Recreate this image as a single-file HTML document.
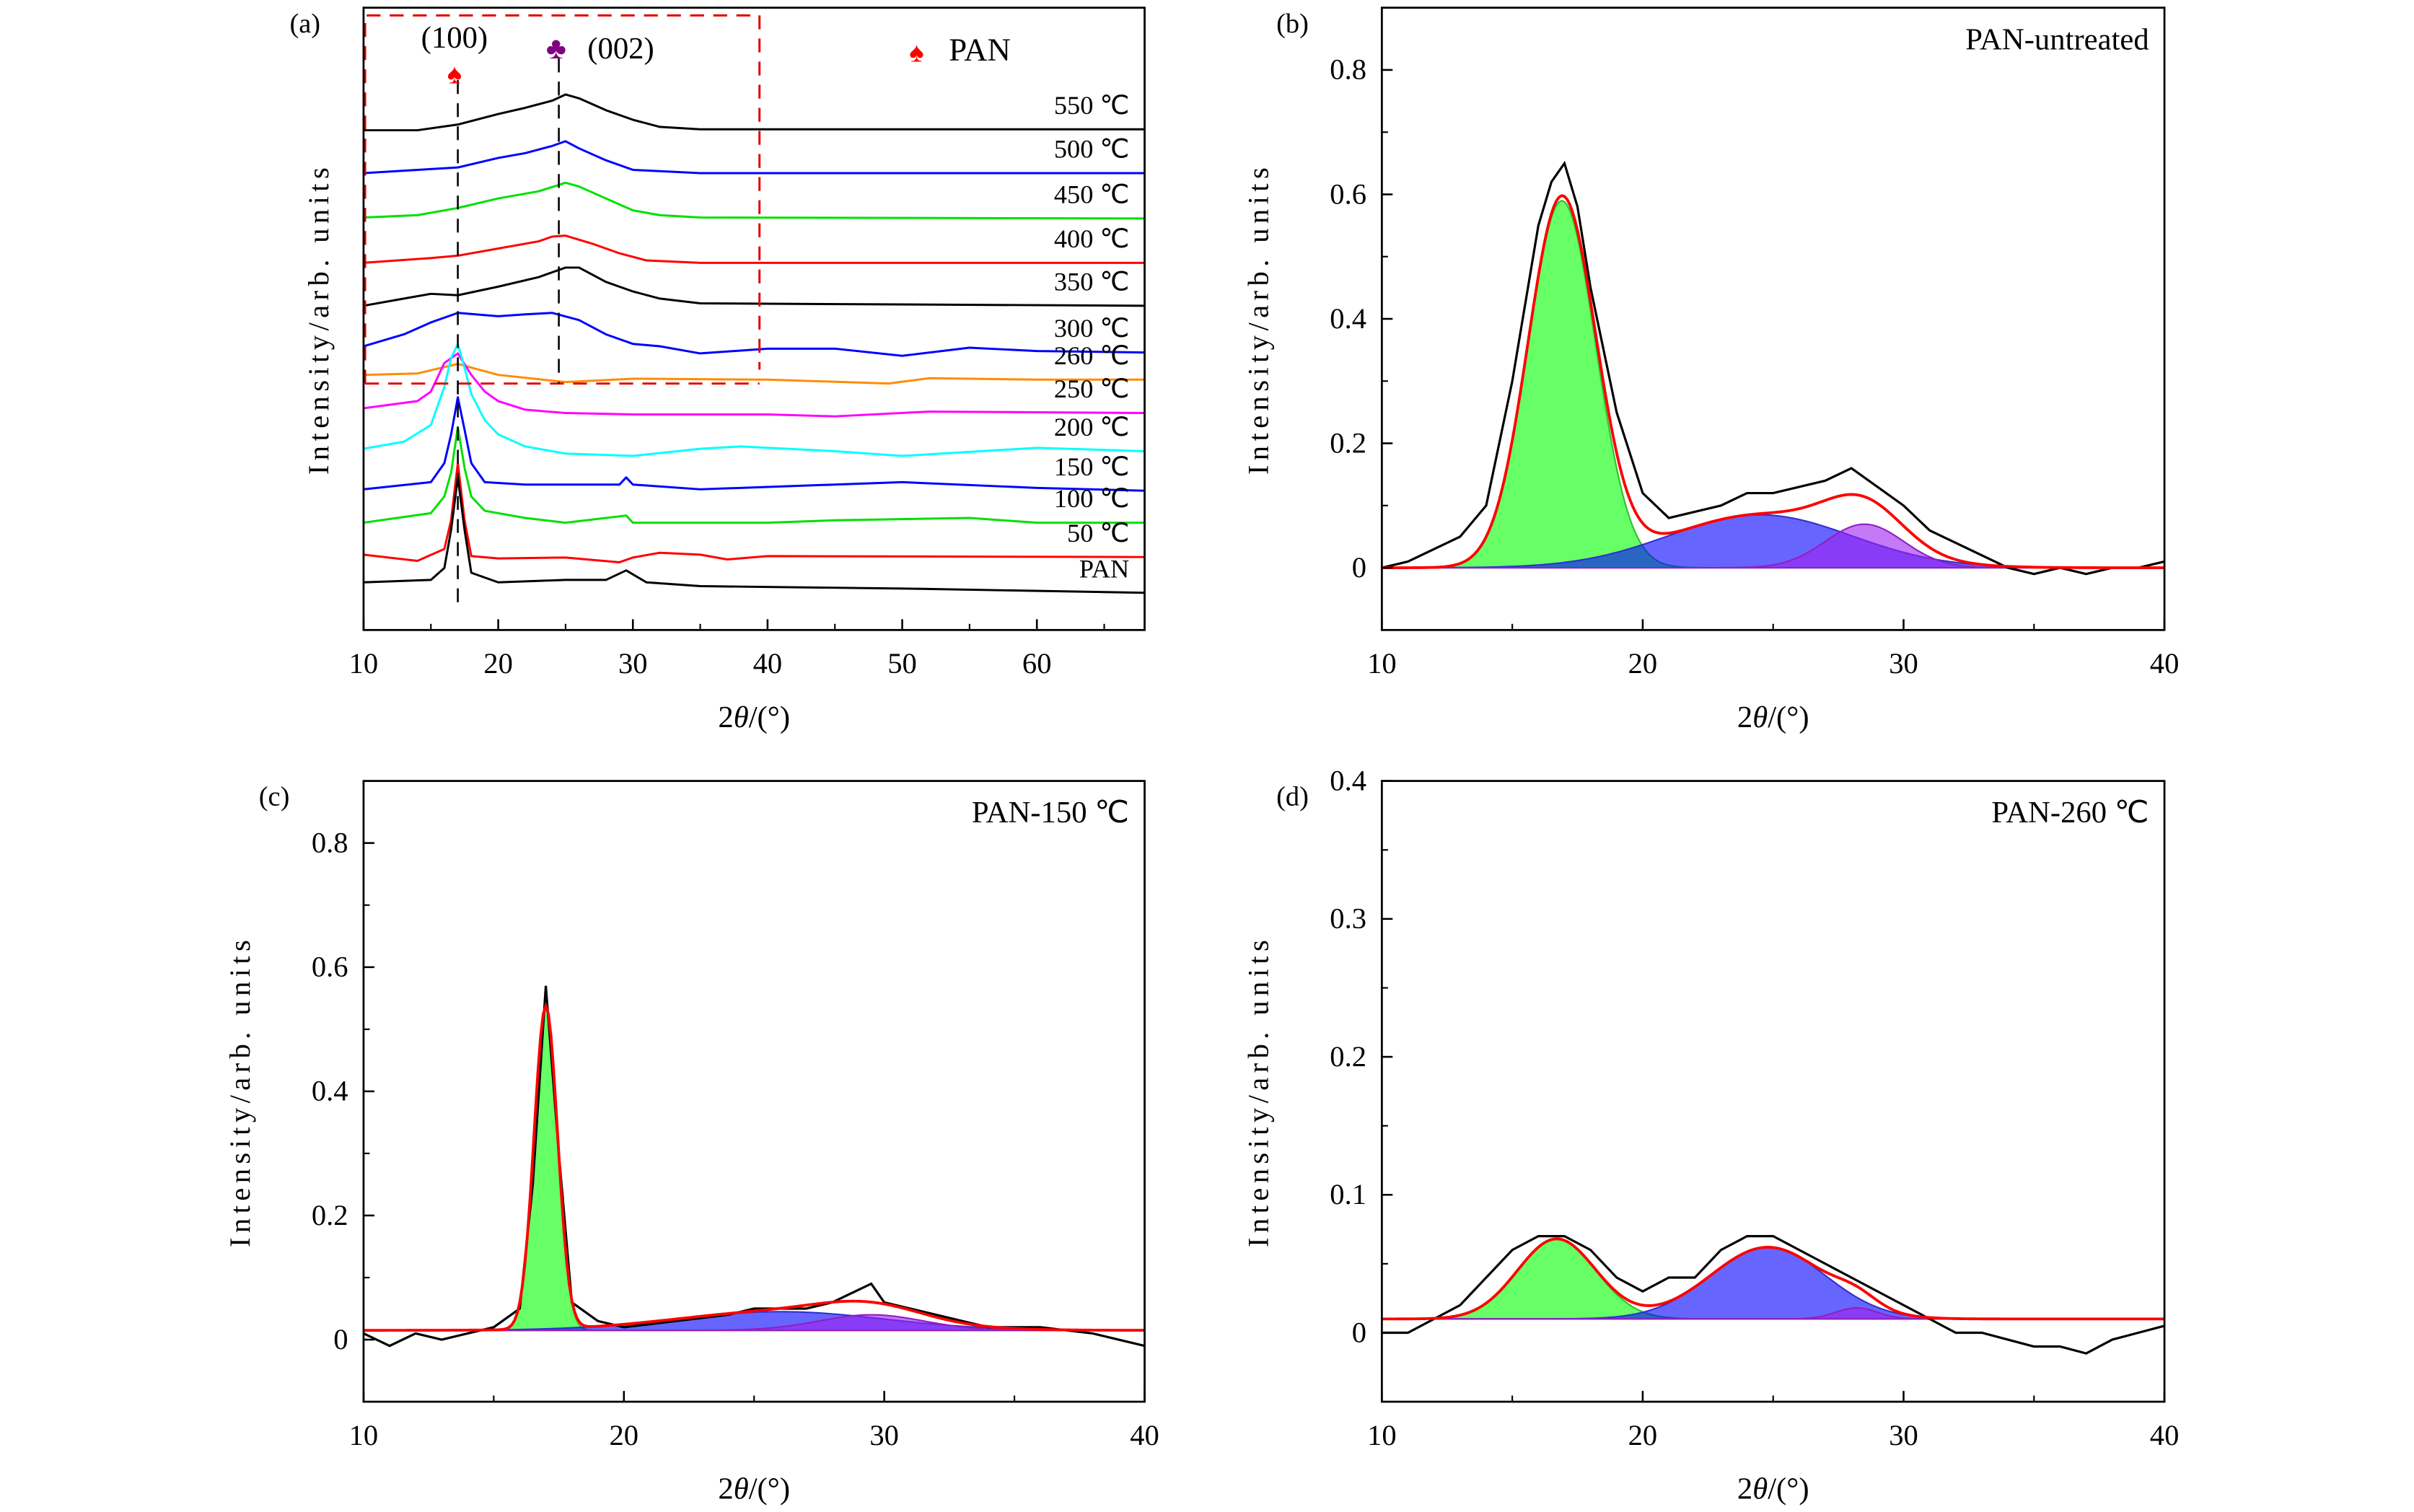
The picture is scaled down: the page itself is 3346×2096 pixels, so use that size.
<!DOCTYPE html>
<html><head><meta charset="utf-8">
<style>
html,body{margin:0;padding:0;background:#fff;}
svg{display:block;}
text{font-family:"Liberation Serif",serif;fill:#000;}
</style></head>
<body>
<svg id="fig" xmlns="http://www.w3.org/2000/svg" width="3346" height="2096" viewBox="0 0 1567 981.6" preserveAspectRatio="none"></svg>
<script>
// ---------- Panel (a) data: stacked XRD patterns (arb. intensity units) ----------
const aLabels = ["550 ℃","500 ℃","450 ℃","400 ℃","350 ℃","300 ℃","260 ℃","250 ℃","200 ℃","150 ℃","100 ℃","50 ℃","PAN"];
const aColors = ["#000","#0000ff","#00e000","#ff0000","#000","#0000ff","#ff8c00","#ff00ff","#00ffff","#0000ff","#00e000","#ff0000","#000"];
const x550=[10,14,17,20,22,24,25,26,28,30,32,35,68];
const y550=[1048,1048,1060,1082,1095,1110,1123,1115,1090,1070,1055,1050,1050];
const x500=[10,17,20,22,24,25,26,28,30,35,68];
const y500=[958,970,990,1000,1015,1025,1010,985,965,958,958];
const x450=[10,14,17,20,23,25,26,28,30,32,35,68];
const y450=[865,870,885,905,920,938,930,905,880,870,865,863];
const x400=[10,15,17,20,23,24,25,27,29,31,35,68];
const y400=[770,780,785,800,815,825,827,810,790,775,770,770];
const x350=[10,13,15,17,20,23,25,26,28,30,32,35,68];
const y350=[680,695,705,702,720,740,760,760,730,710,695,685,680];
const x300=[10,13,15,17,20,22,24,26,28,30,32,35,40,45,50,55,60,68];
const y300=[595,620,645,665,658,662,665,650,620,600,595,580,590,590,575,592,585,582];
const x260=[10,14,17,20,25,30,40,49,52,60,68];
const y260=[535,538,558,535,520,527,525,517,528,525,525];
const x250=[10,14,15,16,17,18,19,20,22,25,30,40,45,52,68];
const y250=[465,480,500,560,580,535,500,480,462,455,452,452,448,458,455];
const x200=[10,13,15,16,16.5,17,17.5,18,19,20,22,25,30,35,38,45,50,60,68];
const y200=[380,395,430,510,570,600,550,495,440,410,385,370,365,380,385,375,365,382,375];
const x150=[10,15,16,16.5,17,17.5,18,19,22,25,29,29.5,30,35,50,60,68];
const y150=[295,310,350,410,488,420,350,310,305,305,305,320,305,295,310,298,292];
const x100=[10,15,16,16.5,17,17.5,18,19,22,25,29.5,30,40,45,55,60,68];
const y100=[225,245,280,330,425,340,280,250,235,225,240,225,225,230,235,225,225];
const x50=[10,14,16,16.5,17,17.5,18,20,25,29,30,32,35,37,40,68];
const y50=[158,145,170,230,350,230,155,150,152,142,152,162,158,148,155,153];
const xPAN=[10,15,16,16.5,17,17.5,18,20,25,28,29.5,31,35,50,68];
const yPAN=[100,105,130,210,320,210,120,100,105,105,125,100,92,87,78];
const aXs=[x550,x500,x450,x400,x350,x300,x260,x250,x200,x150,x100,x50,xPAN];
const aYs=[y550,y500,y450,y400,y350,y300,y260,y250,y200,y150,y100,y50,yPAN];
const aXTicks=[10,20,30,40,50,60];

// ---------- Panel (b) PAN-untreated ----------
const bX=[10,11,12,13,14,15,16,16.5,17,17.5,18,19,20,21,22,23,24,25,26,27,28,29,30,31,32,33,34,35,36,37,38,39,40];
const bY=[0,0.01,0.03,0.05,0.1,0.3,0.55,0.62,0.65,0.58,0.45,0.25,0.12,0.08,0.09,0.1,0.12,0.12,0.13,0.14,0.16,0.13,0.1,0.06,0.04,0.02,0,-0.01,0,-0.01,0,0,0.01];
const bCenters=[16.9,24.5,28.5];
const bAmps=[0.59,0.085,0.07];
const bSigmas=[1.3,3.5,1.5];
const bBase=0;
// ---------- Panel (c) PAN-150 ----------
const cX=[10,11,12,13,14,15,16,16.5,17,17.5,18,19,20,22,24,25,26,27,28,29,29.5,30,31,32,33,34,35,36,38,40];
const cY=[0.01,-0.01,0.01,0,0.01,0.02,0.05,0.25,0.57,0.3,0.06,0.03,0.02,0.03,0.04,0.05,0.05,0.05,0.06,0.08,0.09,0.06,0.05,0.04,0.03,0.02,0.02,0.02,0.01,-0.01];
const cCenters=[17.0,26,29.5];
const cAmps=[0.52,0.03,0.025];
const cSigmas=[0.45,4,2];
const cBase=0.015;
// ---------- Panel (d) PAN-260 ----------
const dX=[10,11,12,13,14,15,16,17,18,19,20,21,22,23,24,25,26,27,28,29,30,31,32,33,34,35,36,37,38,39,40];
const dY=[0,0,0.01,0.02,0.04,0.06,0.07,0.07,0.06,0.04,0.03,0.04,0.04,0.06,0.07,0.07,0.06,0.05,0.04,0.03,0.02,0.01,0,0,-0.005,-0.01,-0.01,-0.015,-0.005,0,0.005];
const dCenters=[16.7,24.8,28.2];
const dAmps=[0.058,0.052,0.008];
const dSigmas=[1.5,2.2,0.8];
const dBase=0.01;
const compColors=["#00ff00","#0000ff","#a020f0"];
const compStroke=["#30c030","#3030d0","#9020c0"];
const bYTicks=[0,0.2,0.4,0.6,0.8];
const dYTicks=[0,0.1,0.2,0.3,0.4];
const xTicks3=[10,20,30,40];

const NS="http://www.w3.org/2000/svg";
const svg=document.getElementById('fig');
function el(tag,attrs,parent){const e=document.createElementNS(NS,tag);for(const k in attrs)e.setAttribute(k,attrs[k]);(parent||svg).appendChild(e);return e;}
function txt(s,x,y,size,anchor,parent){const t=el('text',{x:x,y:y,'font-size':size,'text-anchor':anchor||'middle'},parent);t.textContent=s;return t;}

function makeAxes(box,xd,yd){
  const sx=v=>box.l+(v-xd[0])/(xd[1]-xd[0])*(box.r-box.l);
  const sy=v=>box.b-(v-yd[0])/(yd[1]-yd[0])*(box.b-box.t);
  return {sx,sy};
}
function gauss(x,c,a,s){return a*Math.exp(-0.5*((x-c)/s)**2);}

function axisFrame(g,box,sx,sy,xt,xminor,yt,yminor,yfmt){
  const fr=el('rect',{x:box.l,y:box.t,width:box.r-box.l,height:box.b-box.t,fill:'none',stroke:'#000','stroke-width':1.3},g);
  
  
  xt.forEach(v=>{el('line',{x1:sx(v),x2:sx(v),y1:box.b,y2:box.b-7,stroke:'#000','stroke-width':1.2},g);
    const t=txt(String(v),sx(v),box.b+28,19,'middle',g);
    
    });
  xminor.forEach(v=>el('line',{x1:sx(v),x2:sx(v),y1:box.b,y2:box.b-4,stroke:'#000','stroke-width':1},g));
  yt.forEach(v=>{el('line',{x1:box.l,x2:box.l+7,y1:sy(v),y2:sy(v),stroke:'#000','stroke-width':1.2},g);
    const t=txt(yfmt(v),box.l-10,sy(v)+6,19,'end',g);
    
    });
  yminor.forEach(v=>el('line',{x1:box.l,x2:box.l+4,y1:sy(v),y2:sy(v),stroke:'#000','stroke-width':1},g));
}
function labels(g,box,ylx){
  const xl=txt('',(box.l+box.r)/2,box.b+63,20,'middle',g);
  xl.innerHTML='2<tspan font-style="italic">θ</tspan>/(°)';
  
  
  const yl=txt('Intensity/arb. units',0,0,19,'middle',g);
  yl.setAttribute('transform',`translate(${ylx},${(box.t+box.b)/2}) rotate(-90)`);
  yl.setAttribute('letter-spacing','3');
  
  
}
function fitPanel(name,letter,title,box,yd,xs,ys,cen,amp,sig,base,yt,yminor,ylx){
  const g=el('g',{});
  
  
  const {sx,sy}=makeAxes(box,[10,40],yd);
  const cp=el('clipPath',{id:'clip-'+name},g);el('rect',{x:box.l,y:box.t,width:box.r-box.l,height:box.b-box.t},cp);
  const inner=el('g',{'clip-path':`url(#clip-${name})`},g);
  const N=300,grid=[];for(let i=0;i<=N;i++)grid.push(10+30*i/N);
  cen.forEach((c,k)=>{
    let d=`M${sx(10)},${sy(base)}`;
    grid.forEach(x=>{d+=`L${sx(x).toFixed(2)},${sy(base+gauss(x,c,amp[k],sig[k])).toFixed(2)}`;});
    d+=`L${sx(40)},${sy(base)}Z`;
    const p=el('path',{d:d,fill:compColors[k],'fill-opacity':0.6,stroke:compStroke[k],'stroke-width':1},inner);
    
    
  });
  let dd='';xs.forEach((x,i)=>{dd+=(i?'L':'M')+sx(x).toFixed(2)+','+sy(ys[i]).toFixed(2);});
  const dp=el('path',{d:dd,fill:'none',stroke:'#000','stroke-width':1.5},inner);
  
  
  let fd='';grid.forEach((x,i)=>{let s=base;cen.forEach((c,k)=>s+=gauss(x,c,amp[k],sig[k]));fd+=(i?'L':'M')+sx(x).toFixed(2)+','+sy(s).toFixed(2);});
  const fp=el('path',{d:fd,fill:'none',stroke:'#ff0000','stroke-width':1.8},inner);
  
  
  axisFrame(g,box,sx,sy,xTicks3,[15,25,35],yt,yminor,v=>v===0?'0':String(v));
  labels(g,box,ylx);
  const tt=txt(title,box.r-10,box.t+27,20,'end',g);
  
  
  const pl=txt(letter,box.l-58,box.t+16,18,'middle',g);
  
  
}

// ---------- Panel (a) ----------
(function(){
  const box={l:236,r:743,t:5,b:409};
  const g=el('g',{});
  
  
  const {sx,sy}=makeAxes(box,[10,68],[0,1305]);
  aXs.forEach((xs,i)=>{
    let d='';xs.forEach((x,j)=>{d+=(j?'L':'M')+sx(x).toFixed(2)+','+sy(aYs[i][j]).toFixed(2);});
    const p=el('path',{d:d,fill:'none',stroke:aColors[i],'stroke-width':1.4,'stroke-linejoin':'round'},g);
    
    
    const ys=aYs[i];
    const t=txt(aLabels[i],733,sy(ys[ys.length-1])-10,17,'end',g);
    
    
  });
  const box2=el('path',{d:'M237,249 L237,10 L493,10 L493,240 M237,249 L493,249',fill:'none',stroke:'#e00000','stroke-width':1.4,'stroke-dasharray':'9,6'},g);
  
  
  el('line',{x1:sx(17),x2:sx(17),y1:52,y2:393,stroke:'#000','stroke-width':1.2,'stroke-dasharray':'9,6'},g);
  el('line',{x1:sx(24.5),x2:sx(24.5),y1:38,y2:249,stroke:'#000','stroke-width':1.2,'stroke-dasharray':'9,6'},g);
  axisFrame(g,box,sx,sy,aXTicks,[15,25,35,45,55,65],[],[],v=>v);
  labels(g,box,213);
  txt('(100)',295,31,20,'middle',g);
  const s1=txt('♠',295,54,18,'middle',g);s1.setAttribute('style','fill:#ff0000');
  const s2=txt('♣',361,38,20,'middle',g);s2.setAttribute('style','fill:#800080');
  txt('(002)',403,38,20,'middle',g);
  const s3=txt('♠',595,40,18,'middle',g);s3.setAttribute('style','fill:#ff0000');
  txt('PAN',636,39,21,'middle',g);
  txt('(a)',198,21,18,'middle',g);
})();

fitPanel('panel-b','(b)','PAN-untreated',{l:897,r:1405,t:5,b:409},[-0.1,0.9],bX,bY,bCenters,bAmps,bSigmas,bBase,bYTicks,[0.1,0.3,0.5,0.7],823);
fitPanel('panel-c','(c)','PAN-150 ℃',{l:236,r:743,t:507,b:910},[-0.1,0.9],cX,cY,cCenters,cAmps,cSigmas,cBase,bYTicks,[0.1,0.3,0.5,0.7],162);
fitPanel('panel-d','(d)','PAN-260 ℃',{l:897,r:1405,t:507,b:910},[-0.05,0.4],dX,dY,dCenters,dAmps,dSigmas,dBase,dYTicks,[0.05,0.15,0.25,0.35],823);
</script>
</body></html>
